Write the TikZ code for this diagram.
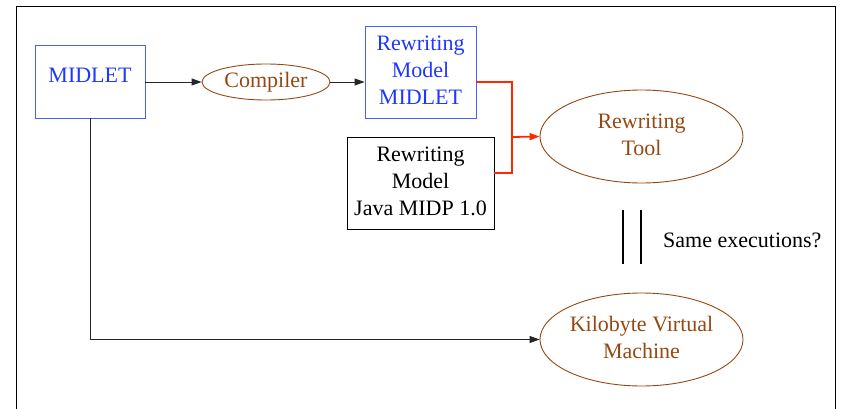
\documentclass[tikz,border=0pt]{standalone}
\usepackage{fontspec}
\newfontfamily\lserif{Liberation Serif}
\usetikzlibrary{shapes.geometric,arrows.meta}
\definecolor{cblue}{RGB}{30,55,255}
\definecolor{cbbox}{RGB}{70,95,255}
\definecolor{cbrown}{RGB}{150,72,18}
\definecolor{cred}{RGB}{255,40,0}
\newcommand{\mylines}[2]{\raisebox{#1}{\begin{tabular}{@{}c@{}}#2\end{tabular}}}
\begin{document}
\begin{tikzpicture}[x=1pt,y=-1pt,
  every node/.style={font=\lserif\fontsize{22}{27}\selectfont, align=center, inner sep=0pt},
  bluebox/.style={draw=cbbox, text=cblue, line width=0.9pt, rectangle},
  blackbox/.style={draw=black, text=black, line width=0.9pt, rectangle},
  brownell/.style={draw=cbrown, text=cbrown, line width=0.9pt, ellipse},
  conn/.style={draw=black!85, line width=0.9pt, -{Triangle[length=10pt,width=7pt]}},
  redconn/.style={draw=cred, line width=1.8pt},
  redarr/.style={draw=cred, line width=1.8pt, -{Triangle[length=10pt,width=7pt,fill=cred]}}]
\useasboundingbox (0,0) rectangle (845,409);
% frame
\draw[line width=1pt] (16.5,409) -- (16.5,7) -- (835,7) -- (835,409);
% nodes
\node[bluebox, minimum width=110pt, minimum height=73pt] (midlet) at (90,81.5) {\raisebox{12pt}{MIDLET}};
\node[brownell, minimum width=128pt, minimum height=36pt] (comp) at (266,82) {\raisebox{-8pt}{Compiler}};
\node[bluebox, minimum width=111pt, minimum height=92pt] (rmm) at (420.5,72) {\mylines{-5pt}{Rewriting\\Model\\MIDLET}};
\node[blackbox, minimum width=147pt, minimum height=92pt] (rmj) at (420.5,183) {\mylines{-4pt}{Rewriting\\Model\\Java MIDP 1.0}};
\node[brownell, minimum width=203pt, minimum height=93pt] (tool) at (641.5,136.5) {\mylines{4pt}{Rewriting\\Tool}};
\node[brownell, minimum width=203pt, minimum height=93pt] (kvm) at (641.5,339.5) {\mylines{4pt}{Kilobyte Virtual\\Machine}};
\node[anchor=west] (same) at (663,240) {Same executions?};
% equality bars
\coordinate (b1t) at (623,210); \coordinate (b1b) at (623,264);
\coordinate (b2t) at (641,210); \coordinate (b2b) at (641,264);
\draw[line width=1.4pt] (b1t) -- (b1b);
\draw[line width=1.4pt] (b2t) -- (b2b);
% connectors
\draw[conn] (midlet.east |- comp.west) -- (comp.west);
\draw[conn] (comp.east) -- (rmm.west |- comp.east);
\coordinate (j) at (512,137);
\draw[redconn] (rmm.east |- 0,82) -| (j);
\draw[redconn] (rmj.east |- 0,173) -| (j);
\draw[redarr] (j) -- (tool.west);
\draw[conn] (midlet.south) |- (kvm.west);
\end{tikzpicture}
\end{document}
